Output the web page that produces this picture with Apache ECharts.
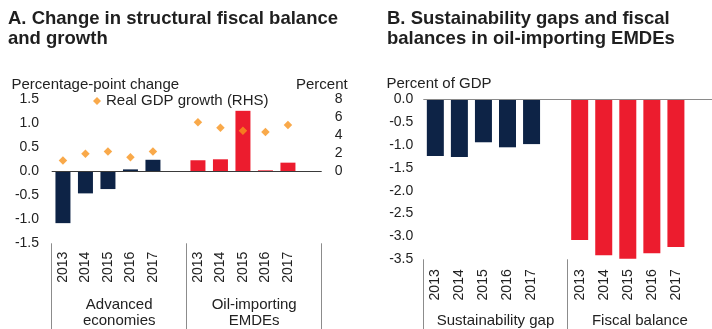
<!DOCTYPE html>
<html>
<head>
<meta charset="utf-8">
<script src="https://cdn.jsdelivr.net/npm/echarts@6/dist/echarts.min.js"></script>
<style>
  html, body { margin: 0; padding: 0; background: #fff; }
  #chart { width: 712px; height: 329px; }
</style>
</head>
<body>
<div id="chart"></div>
<script>
// Years shown in each group
const years = ['2013', '2014', '2015', '2016', '2017'];

// Panel A: change in structural fiscal balance (percentage points)
const advancedChange = [-1.08, -0.46, -0.37, 0.04, 0.24];
const emdeChange = [0.23, 0.25, 1.26, 0.02, 0.18];
// Panel A: real GDP growth, percent (right axis)
const advancedGrowth = [1.2, 1.95, 2.2, 1.57, 2.2];
const emdeGrowth = [5.45, 4.85, 4.5, 4.37, 5.15];
const groupsA = ['Advanced\neconomies', 'Oil-importing\nEMDEs'];

// Panel B: oil-importing EMDEs, percent of GDP
const sustainabilityGap = [-1.24, -1.26, -0.94, -1.05, -0.98];
const fiscalBalance = [-3.08, -3.41, -3.49, -3.37, -3.23];
const groupsB = ['Sustainability gap', 'Fiscal balance'];

const growthLabel = 'Real GDP growth (RHS)';

// Each panel: 5 years, one spacer slot, 5 years, one spacer slot
const slotCats = years.concat([''], years, ['']);
const blank = n => new Array(n).fill(null);
const firstGroup = v => v.concat(blank(7));
const secondGroup = v => blank(6).concat(v, [null]);

const FONT = "'Liberation Sans', Arial, sans-serif";
const NAVY = '#0d2346';
const RED = '#ec1c2e';
const ORANGE = '#f7941d';
const TXT = '#222222';

const chart = echarts.init(document.getElementById('chart'));

const hiddenY = {
  axisLine: { show: false }, axisTick: { show: false }, splitLine: { show: false }
};
const yearAxis = (grid, margin) => ({
  type: 'category', gridIndex: grid, data: slotCats, position: 'bottom',
  axisLine: { show: false, onZero: false }, axisTick: { show: false },
  axisLabel: { rotate: 90, margin: margin, fontSize: 14, color: TXT, fontFamily: FONT, interval: 0 }
});
const groupAxis = (grid, data, tickLen, margin) => ({
  type: 'category', gridIndex: grid, data: data, position: 'bottom',
  axisLine: { show: false, onZero: false },
  axisTick: { show: true, length: tickLen, interval: 0, lineStyle: { color: '#8c8c8c', width: 1 } },
  axisLabel: { margin: margin, fontSize: 15, lineHeight: 15.7, color: TXT, fontFamily: FONT, interval: 0 }
});
const zeroLine = color => ({
  silent: true, symbol: 'none', label: { show: false },
  lineStyle: { color: color, width: 1.2, type: 'solid' },
  data: [{ yAxis: 0 }]
});
const heading = (text, left) => ({
  text: text, left: left, top: 9.6, padding: 0,
  textStyle: { fontSize: 18.5, fontWeight: 'bold', lineHeight: 19.5, color: '#1f1f1f', fontFamily: FONT }
});
const unitText = (text, left, top) => ({
  text: text, left: left, top: top, padding: 0,
  textStyle: { fontSize: 15, fontWeight: 'normal', lineHeight: 16, color: TXT, fontFamily: FONT }
});

chart.setOption({
  animation: false,
  backgroundColor: '#ffffff',
  textStyle: { fontFamily: FONT },
  title: [
    heading('A. Change in structural fiscal balance\nand growth', 8),
    heading('B. Sustainability gaps and fiscal\nbalances in oil-importing EMDEs', 387),
    unitText('Percentage-point change', 11.5, 77),
    unitText('Percent', 296, 77),
    unitText('Percent of GDP', 386.5, 76)
  ],
  legend: {
    data: [{ name: growthLabel, icon: 'diamond' }],
    left: 93, top: 93, itemWidth: 8, itemHeight: 8, padding: 0,
    textStyle: { fontSize: 15, lineHeight: 16, color: TXT, fontFamily: FONT }
  },
  grid: [
    { left: 51.7, top: 99.3, width: 270, height: 144 },
    { left: 423.3, top: 99.3, width: 298.8, height: 160.7 }
  ],
  xAxis: [
    yearAxis(0, 8.4),
    groupAxis(0, groupsA, 90, 54),
    yearAxis(1, 10),
    groupAxis(1, groupsB, 75, 54)
  ],
  yAxis: [
    Object.assign({ type: 'value', gridIndex: 0, min: -1.5, max: 1.5, interval: 0.5,
      axisLabel: { margin: 12.7, fontSize: 14, color: TXT, fontFamily: FONT, formatter: v => v.toFixed(1) } }, hiddenY),
    Object.assign({ type: 'value', gridIndex: 0, position: 'right', min: -8, max: 8, interval: 2,
      axisLabel: { margin: 13, fontSize: 14, color: TXT, fontFamily: FONT, formatter: v => (v >= 0 ? String(v) : '') } }, hiddenY),
    Object.assign({ type: 'value', gridIndex: 1, min: -3.5, max: 0, interval: 0.5,
      axisLabel: { margin: 10, fontSize: 14, color: TXT, fontFamily: FONT, formatter: v => v.toFixed(1) } }, hiddenY)
  ],
  series: [
    { type: 'bar', name: 'Advanced economies', xAxisIndex: 0, yAxisIndex: 0,
      data: firstGroup(advancedChange), barWidth: 15, barGap: '-100%',
      itemStyle: { color: NAVY }, markLine: zeroLine('#3a3a3a') },
    { type: 'bar', name: 'Oil-importing EMDEs', xAxisIndex: 0, yAxisIndex: 0,
      data: secondGroup(emdeChange), barWidth: 15, barGap: '-100%',
      itemStyle: { color: RED } },
    { type: 'scatter', name: growthLabel, xAxisIndex: 0, yAxisIndex: 1,
      data: firstGroup(advancedGrowth).map((v, i) => (v === null ? secondGroup(emdeGrowth)[i] : v)),
      symbol: 'diamond', symbolSize: 8.5, itemStyle: { color: ORANGE }, z: 5 },
    { type: 'bar', name: 'Sustainability gap', xAxisIndex: 2, yAxisIndex: 2,
      data: firstGroup(sustainabilityGap), barWidth: 17, barGap: '-100%',
      itemStyle: { color: NAVY }, markLine: zeroLine('#8a8a8a') },
    { type: 'bar', name: 'Fiscal balance', xAxisIndex: 2, yAxisIndex: 2,
      data: secondGroup(fiscalBalance), barWidth: 17, barGap: '-100%',
      itemStyle: { color: RED } }
  ]
});
</script>
</body>
</html>
